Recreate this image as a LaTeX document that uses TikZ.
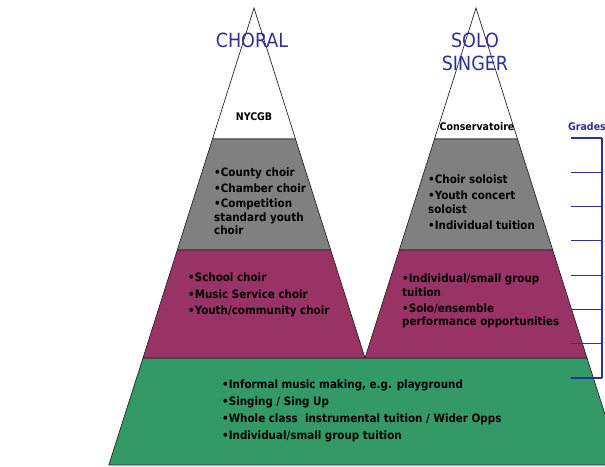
\documentclass[tikz,border=0pt]{standalone}
\usepackage{fontspec}
\setmainfont{DejaVu Sans Condensed}
\definecolor{bandgray}{RGB}{128,128,128}
\definecolor{bandplum}{RGB}{153,51,102}
\definecolor{bandgreen}{RGB}{51,153,102}
\definecolor{titleblue}{RGB}{46,49,146}
\begin{document}
\begin{tikzpicture}[x=1pt,y=-1pt]
    \tikzstyle{every node}+=[inner sep=0pt]
    \tikzstyle{band}=[draw=black!85, line width=0.7pt]
    \tikzstyle{title}=[text=titleblue, font=\fontsize{19.5}{23}\selectfont, align=center]
    \tikzstyle{item}=[anchor=north west, align=left, font=\bfseries\fontsize{11.5}{13.5}\selectfont]
    \tikzstyle{scale line}=[titleblue, line width=1.1pt]
    \useasboundingbox (0,0) rectangle (605,466);
    \clip (0,0) rectangle (605,466);
    % base layer
    \draw [band, fill=bandgreen] (143,358) -- (587,358) -- (621.2,465) -- (108.8,465) -- cycle;
    % choral pyramid
    \draw [band, fill=white] (254,8) -- (212.5,139) -- (295.5,139) -- cycle;
    \draw [band, fill=bandgray] (212.5,139) -- (295.5,139) -- (330.7,250) -- (177.3,250) -- cycle;
    \draw [band, fill=bandplum] (177.3,250) -- (330.7,250) -- (365,358) -- (143,358) -- cycle;
    % solo singer pyramid
    \draw [band, fill=white] (476,8) -- (434.5,139) -- (517.5,139) -- cycle;
    \draw [band, fill=bandgray] (434.5,139) -- (517.5,139) -- (552.7,250) -- (399.3,250) -- cycle;
    \draw [band, fill=bandplum] (399.3,250) -- (552.7,250) -- (587,358) -- (365,358) -- cycle;
    % titles
    \node [title] (choral) at (252,40) {CHORAL};
    \node [title] (solo) at (475,51.5) {SOLO\\SINGER};
    \node [font=\bfseries\fontsize{10.5}{12}\selectfont] (nycgb) at (254,117) {NYCGB};
    \node [font=\bfseries\fontsize{10.5}{12}\selectfont] (conserv) at (477,127) {Conservatoire};
    % band texts
    \node [item] (county) at (214,168) {•County choir\\[2pt]•Chamber choir\\[2pt]•Competition\\standard youth\\choir};
    \node [item] (soloist) at (428,175) {•Choir soloist\\[2.5pt]•Youth concert\\soloist\\[2.5pt]•Individual tuition};
    \node [item] (school) at (188,273) {•School choir\\[3pt]•Music Service choir\\[3pt]•Youth/community choir};
    \node [item] (tuition) at (402,274) {•Individual/small group\\tuition\\[2.5pt]•Solo/ensemble\\performance opportunities};
    \node [item] (informal) at (222,380) {•Informal music making, e.g. playground\\[3.5pt]•Singing / Sing Up\\[3.5pt]•Whole class\ \ instrumental tuition / Wider Opps\\[3.5pt]•Individual/small group tuition};
    % grades scale
    \node [anchor=west, text=titleblue, font=\bfseries\fontsize{10.5}{12}\selectfont] (grades) at (568,127) {Grades};
    \coordinate (gtop) at (602,138);
    \coordinate (gbot) at (602,378);
    \draw [scale line] (gtop) -- (gbot);
    \foreach \i in {0,...,7}
        \draw [scale line] (571,138+34.29*\i) -- (602,138+34.29*\i);
\end{tikzpicture}
\end{document}
